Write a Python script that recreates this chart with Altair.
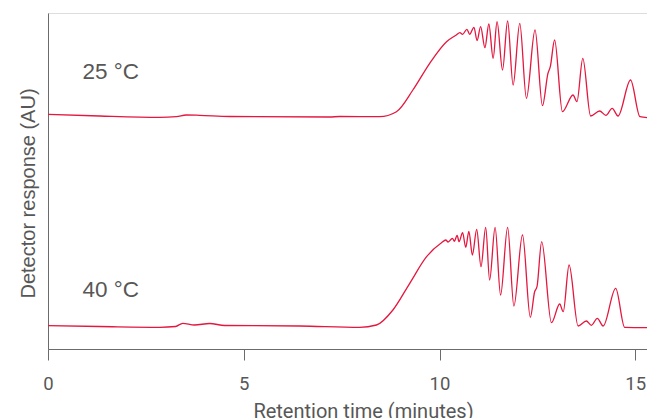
import altair as alt
import pandas as pd

# Retention time (minutes) and detector response (AU, arbitrary offset units)
time_25 = [0.0, 1.32, 2.85, 3.28, 3.53, 3.87, 4.64, 7.19, 7.45, 8.47, 8.90, 9.32, 9.75, 10.18, 10.43,
           10.52, 10.59, 10.70, 10.77, 10.88, 10.96, 11.05, 11.16, 11.26, 11.37, 11.47, 11.61, 11.74,
           11.88, 12.05, 12.22, 12.44, 12.63, 12.77, 12.83, 12.94, 13.14, 13.41, 13.51, 13.66, 13.86,
           14.09, 14.25, 14.41, 14.56, 14.88, 15.12, 15.5]
resp_25 = [234.7, 233.0, 231.7, 232.3, 234.0, 233.7, 232.5, 232.0, 232.5, 232.3, 237.3, 259.0, 285.7, 307.3, 314.0,
           316.3, 314.7, 319.7, 314.7, 321.7, 308.3, 322.3, 301.3, 325.0, 290.7, 327.3, 279.0, 328.0,
           264.0, 325.7, 250.7, 319.0, 243.3, 275.7, 282.3, 309.0, 237.3, 254.0, 247.3, 290.7, 233.0,
           238.0, 233.7, 240.7, 233.0, 269.0, 232.3, 230.7]

time_40 = [0.0, 1.32, 2.85, 3.26, 3.44, 3.74, 4.13, 4.51, 6.43, 7.96, 8.39, 8.81, 9.24, 9.67, 10.05,
           10.16, 10.22, 10.33, 10.38, 10.45, 10.50, 10.59, 10.67, 10.75, 10.84, 10.95, 11.06, 11.18,
           11.28, 11.42, 11.56, 11.74, 11.90, 12.12, 12.32, 12.43, 12.49, 12.61, 12.86, 13.07, 13.16,
           13.31, 13.54, 13.75, 13.88, 14.03, 14.18, 14.50, 14.73, 15.5]
resp_40 = [23.3, 22.5, 21.7, 22.5, 25.7, 24.0, 25.5, 23.5, 23.0, 21.7, 24.0, 39.0, 65.7, 92.3, 106.3,
           109.0, 107.0, 110.7, 107.7, 113.7, 107.3, 116.3, 101.7, 117.7, 94.0, 119.7, 82.3, 121.7,
           69.0, 121.7, 54.0, 121.7, 43.0, 114.0, 31.7, 57.3, 62.3, 107.3, 26.3, 45.0, 37.3,
           84.0, 23.0, 28.0, 23.7, 30.7, 23.0, 60.7, 21.7, 21.3]

label_text = ["25 °C", "40 °C"]
label_time = [0.88, 0.88]
label_resp = [277, 59]

x_ticks = [0, 5, 10, 15]

rows = []
for t, v in zip(time_25, resp_25):
    rows.append({"time": t, "resp": v, "series": "25 °C"})
for t, v in zip(time_40, resp_40):
    rows.append({"time": t, "resp": v, "series": "40 °C"})
df = pd.DataFrame(rows)
labels = pd.DataFrame({"text": label_text, "time": label_time, "resp": label_resp})

RED = "#e4173e"
GRAY = "#575757"
AXIS = "#6b6b6b"
XFONT = "Roboto"
SANS = "Liberation Sans"

x_scale = alt.Scale(domain=[0, 15.3], nice=False, zero=False)
y_scale = alt.Scale(domain=[0, 336], nice=False, zero=False)

lines = alt.Chart(df).mark_line(interpolate="monotone", color=RED, strokeWidth=1.3, clip=True).encode(
    x=alt.X("time:Q", scale=x_scale,
            axis=alt.Axis(title="Retention time (minutes)", values=x_ticks, grid=False,
                          domainColor=AXIS, tickColor=AXIS, tickSize=11, labelFlush=False,
                          labelFont=XFONT, labelFontSize=18.5, labelColor=GRAY, labelPadding=14,
                          titleFont=XFONT, titleFontSize=20, titleFontWeight="normal",
                          titleColor=GRAY, titlePadding=9, titleX=315)),
    y=alt.Y("resp:Q", scale=y_scale,
            axis=alt.Axis(title="Detector response (AU)", labels=False, ticks=False, grid=False,
                          domainColor=AXIS, titleFont=SANS, titleFontSize=20,
                          titleFontWeight="normal", titleColor=GRAY,
                          titleX=-10, titleY=180)),
    detail="series:N",
)

text = alt.Chart(labels).mark_text(align="left", baseline="middle", font=SANS, fontSize=22.5,
                                   color=GRAY).encode(
    x=alt.X("time:Q", scale=x_scale),
    y=alt.Y("resp:Q", scale=y_scale),
    text="text:N",
)

chart = alt.layer(lines, text).properties(
    width=599, height=336,
    autosize=alt.AutoSizeParams(type="none"),
    padding={"left": 40, "top": 5, "right": 0, "bottom": 69},
).configure_view(stroke=None).configure(background="white")

chart.save("out.html", embed_options={"renderer": "svg", "actions": False})
